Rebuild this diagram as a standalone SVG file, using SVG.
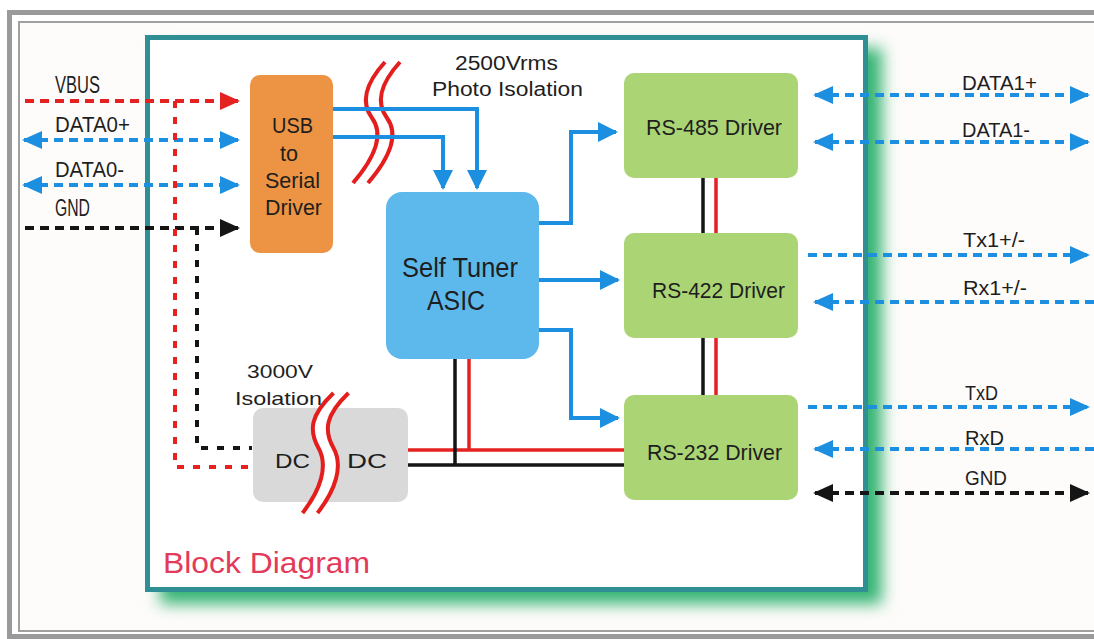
<svg xmlns="http://www.w3.org/2000/svg" width="1094" height="639" viewBox="0 0 1094 639">
<defs>
<style>
.lbl{font-family:"Liberation Sans",Arial,sans-serif;fill:#1e1e1e;}
.dash{fill:none;stroke-width:4;stroke-dasharray:9 6;}
.vdash{fill:none;stroke-width:4;stroke-dasharray:7 9;}
.blue{stroke:#1d8fe0;}
.red{stroke:#e52222;}
.blk{stroke:#151515;}
.solid{fill:none;stroke-width:4;}
.pwr{fill:none;stroke-width:3.5;}
.sq{fill:none;stroke:#e41d1d;stroke-width:4;}
</style>
<marker id="mb" viewBox="0 0 20 18" refX="18" refY="9" markerWidth="20" markerHeight="18" markerUnits="userSpaceOnUse" orient="auto-start-reverse"><path d="M0,0L20,9L0,18z" fill="#1d8fe0"/></marker>
<marker id="mb2" viewBox="0 0 20 20" refX="18" refY="10" markerWidth="20" markerHeight="20" markerUnits="userSpaceOnUse" orient="auto-start-reverse"><path d="M0,0L20,10L0,20z" fill="#1d8fe0"/></marker>
<marker id="mr" viewBox="0 0 20 18" refX="18" refY="9" markerWidth="20" markerHeight="18" markerUnits="userSpaceOnUse" orient="auto-start-reverse"><path d="M0,0L20,9L0,18z" fill="#e52222"/></marker>
<marker id="mk" viewBox="0 0 20 18" refX="18" refY="9" markerWidth="20" markerHeight="18" markerUnits="userSpaceOnUse" orient="auto-start-reverse"><path d="M0,0L20,9L0,18z" fill="#151515"/></marker>
<filter id="glow" x="-10%" y="-10%" width="120%" height="120%"><feGaussianBlur stdDeviation="8"/></filter>
</defs>

<g id="frame">
<rect x="19" y="22" width="1100" height="609" fill="#fefcfa" stroke="#a0a0a0" stroke-width="2"/>
<rect x="9.5" y="12.5" width="1100" height="624" fill="none" stroke="#9a9a9a" stroke-width="5"/>
</g>

<g id="main-box">
<rect x="160" y="48" width="722" height="556" fill="#36b473" filter="url(#glow)"/>
<rect x="147.5" y="37.5" width="718" height="552" fill="#ffffff" stroke="#2f8f95" stroke-width="5"/>
<text class="lbl" x="163" y="573" font-size="29" textLength="207" lengthAdjust="spacingAndGlyphs" style="fill:#e33a5a">Block Diagram</text>
</g>

<g id="photo-isolation">
<path class="sq" d="M385,62 Q355,95 372,118 T353,183"/>
<path class="sq" d="M400,62 Q370,95 387,118 T368,183"/>
<text class="lbl" x="455" y="70" font-size="20" textLength="103" lengthAdjust="spacingAndGlyphs">2500Vrms</text>
<text class="lbl" x="432" y="96" font-size="20" textLength="151" lengthAdjust="spacingAndGlyphs">Photo Isolation</text>
</g>

<g id="connectors">
<path class="dash red" d="M25,101H238" marker-end="url(#mr)"/>
<path class="dash blue" d="M24,140H238" marker-start="url(#mb)" marker-end="url(#mb)"/>
<path class="dash blue" d="M24,185H238" marker-start="url(#mb)" marker-end="url(#mb)"/>
<path class="dash blk" d="M25,228H238" marker-end="url(#mk)"/>
<path class="vdash red" d="M175,101V467H252"/>
<path class="vdash blk" d="M197,228V448H252"/>

<path class="solid blue" d="M333,109H477V188" marker-end="url(#mb2)"/>
<path class="solid blue" d="M333,137H443V188" marker-end="url(#mb2)"/>

<path class="solid blue" d="M539,223H571V132H616" marker-end="url(#mb2)"/>
<path class="solid blue" d="M539,280H618" marker-end="url(#mb2)"/>
<path class="solid blue" d="M539,330H571V418H618" marker-end="url(#mb2)"/>

<path class="pwr blk" d="M703,178V233M703,338V395"/>
<path class="pwr red" d="M716,178V233M716,338V395"/>
<path class="pwr red" d="M469,358V450M408,450H625"/>
<path class="pwr blk" d="M455,358V465M408,465H625"/>

<path class="dash blue" d="M815,95H1088" marker-start="url(#mb)" marker-end="url(#mb)"/>
<path class="dash blue" d="M815,142H1088" marker-start="url(#mb)" marker-end="url(#mb)"/>
<path class="dash blue" d="M808,255H1088" marker-end="url(#mb)"/>
<path class="dash blue" d="M815,302H1096" marker-start="url(#mb)"/>
<path class="dash blue" d="M808,407H1088" marker-end="url(#mb)"/>
<path class="dash blue" d="M815,449H1096" marker-start="url(#mb)"/>
<path class="dash blk" d="M815,493H1088" marker-start="url(#mk)" marker-end="url(#mk)"/>
</g>

<g id="left-labels">
<text class="lbl" x="55" y="93" font-size="23" textLength="45" lengthAdjust="spacingAndGlyphs">VBUS</text>
<text class="lbl" x="55" y="132" font-size="22" textLength="75" lengthAdjust="spacingAndGlyphs">DATA0+</text>
<text class="lbl" x="55" y="177" font-size="22" textLength="69" lengthAdjust="spacingAndGlyphs">DATA0-</text>
<text class="lbl" x="55" y="216" font-size="23" textLength="35" lengthAdjust="spacingAndGlyphs">GND</text>
</g>

<g id="right-labels">
<text class="lbl" x="962" y="90" font-size="21" textLength="75" lengthAdjust="spacingAndGlyphs">DATA1+</text>
<text class="lbl" x="962" y="137" font-size="21" textLength="68" lengthAdjust="spacingAndGlyphs">DATA1-</text>
<text class="lbl" x="963" y="247" font-size="21" textLength="62" lengthAdjust="spacingAndGlyphs">Tx1+/-</text>
<text class="lbl" x="963" y="295" font-size="21" textLength="64" lengthAdjust="spacingAndGlyphs">Rx1+/-</text>
<text class="lbl" x="965" y="400" font-size="21" textLength="33" lengthAdjust="spacingAndGlyphs">TxD</text>
<text class="lbl" x="965" y="445" font-size="21" textLength="39" lengthAdjust="spacingAndGlyphs">RxD</text>
<text class="lbl" x="965" y="485" font-size="21" textLength="42" lengthAdjust="spacingAndGlyphs">GND</text>
</g>

<g id="usb-driver">
<rect x="250" y="75" width="83" height="178" rx="10" fill="#ec9443"/>
<text class="lbl" x="272" y="133" font-size="22" textLength="41" lengthAdjust="spacingAndGlyphs">USB</text>
<text class="lbl" x="280" y="161" font-size="22" textLength="18" lengthAdjust="spacingAndGlyphs">to</text>
<text class="lbl" x="265" y="188" font-size="22" textLength="55" lengthAdjust="spacingAndGlyphs">Serial</text>
<text class="lbl" x="265" y="215" font-size="22" textLength="57" lengthAdjust="spacingAndGlyphs">Driver</text>
</g>

<g id="asic">
<rect x="386" y="192" width="153" height="167" rx="16" fill="#5db9ec"/>
<text class="lbl" x="402" y="277" font-size="27" textLength="116" lengthAdjust="spacingAndGlyphs">Self Tuner</text>
<text class="lbl" x="427" y="310" font-size="27" textLength="58" lengthAdjust="spacingAndGlyphs">ASIC</text>
</g>

<g id="rs485">
<rect x="624" y="73" width="174" height="105" rx="10" fill="#abd574"/>
<text class="lbl" x="646" y="135" font-size="22" textLength="136" lengthAdjust="spacingAndGlyphs">RS-485 Driver</text>
</g>
<g id="rs422">
<rect x="624" y="233" width="174" height="105" rx="10" fill="#abd574"/>
<text class="lbl" x="652" y="298" font-size="22" textLength="133" lengthAdjust="spacingAndGlyphs">RS-422 Driver</text>
</g>
<g id="rs232">
<rect x="624" y="395" width="174" height="105" rx="10" fill="#abd574"/>
<text class="lbl" x="647" y="460" font-size="22" textLength="135" lengthAdjust="spacingAndGlyphs">RS-232 Driver</text>
</g>

<g id="dcdc">
<rect x="253" y="408" width="155" height="94" rx="10" fill="#d9d9d9"/>
<path d="M341,393C318,415 316,430 326,448C336,466 328,490 310,513" fill="none" stroke="#ffffff" stroke-width="12"/>
<path class="sq" transform="translate(-7.5,0)" d="M341,393C318,415 316,430 326,448C336,466 328,490 310,513"/>
<path class="sq" transform="translate(7.5,0)" d="M341,393C318,415 316,430 326,448C336,466 328,490 310,513"/>
<text class="lbl" x="275" y="468" font-size="21" textLength="35" lengthAdjust="spacingAndGlyphs">DC</text>
<text class="lbl" x="347" y="468" font-size="21" textLength="40" lengthAdjust="spacingAndGlyphs">DC</text>
<text class="lbl" x="247" y="378" font-size="19" textLength="66" lengthAdjust="spacingAndGlyphs">3000V</text>
<text class="lbl" x="235" y="405" font-size="19" textLength="87" lengthAdjust="spacingAndGlyphs">Isolation</text>
</g>
</svg>
